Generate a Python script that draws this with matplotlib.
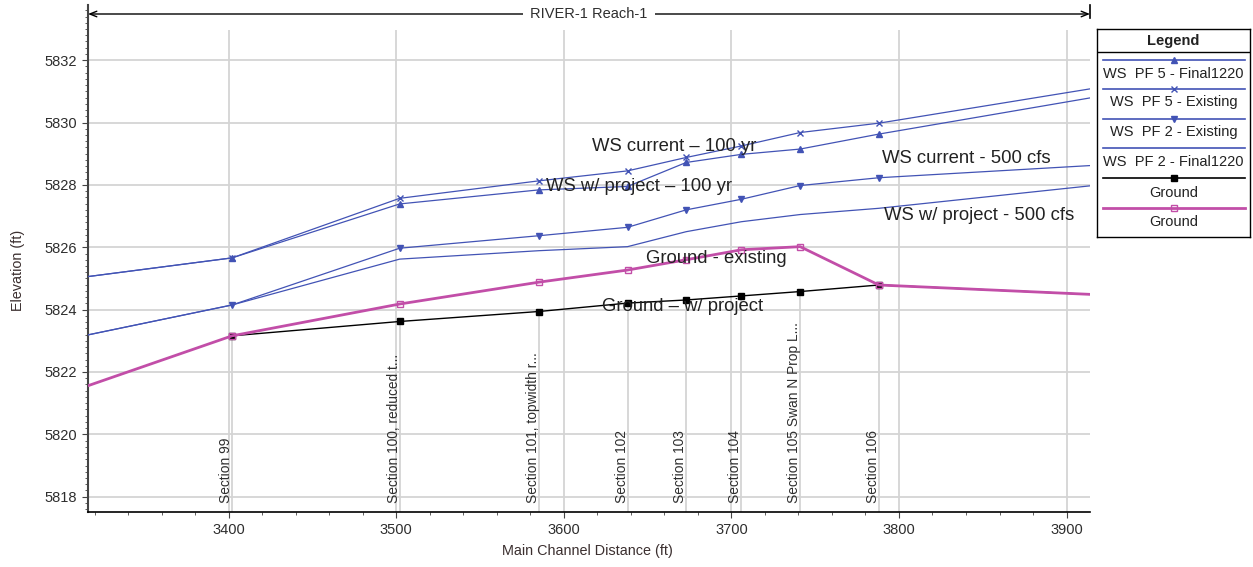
import numpy as np
import matplotlib
matplotlib.use("Agg")
import matplotlib.pyplot as plt
from matplotlib.ticker import MultipleLocator
from matplotlib.transforms import blended_transform_factory

plt.rcParams['font.family'] = ['Liberation Sans', 'DejaVu Sans']

## stations (ft) - first and last are the chart edges
station = [3316, 3402, 3502, 3585, 3638, 3673, 3706, 3741, 3788, 3914]

## water surfaces and ground (ft)
ws_pf5_final = [5825.06, 5825.66, 5827.39, 5827.84, 5827.95, 5828.72, 5828.98, 5829.15, 5829.63, 5830.79]
ws_pf5_exist = [5825.06, 5825.66, 5827.57, 5828.13, 5828.45, 5828.88, 5829.25, 5829.68, 5829.98, 5831.08]
ws_pf2_exist = [5823.19, 5824.15, 5825.97, 5826.37, 5826.64, 5827.20, 5827.54, 5827.98, 5828.23, 5828.62]
ws_pf2_final = [5823.19, 5824.15, 5825.62, 5825.89, 5826.02, 5826.50, 5826.82, 5827.05, 5827.25, 5827.97]
ground_proj = [np.nan, 5823.16, 5823.62, 5823.94, 5824.21, 5824.31, 5824.44, 5824.58, 5824.79, 5824.49]
ground_exist = [5821.56, 5823.16, 5824.18, 5824.88, 5825.27, 5825.60, 5825.92, 5826.02, 5824.79, 5824.49]

## river sections
section_x = station[1:-1]
section_labels = ["Section 99", "Section 100, reduced t...", "Section 101, topwidth r...",
                  "Section 102", "Section 103", "Section 104", "Section 105 Swan N Prop L...",
                  "Section 106"]

xticks = [3400, 3500, 3600, 3700, 3800, 3900]
yticks = [5818, 5820, 5822, 5824, 5826, 5828, 5830, 5832]

## callout texts (x, y, text)
notes = [(3617, 5829.22, "WS current \u2013 100 yr"),
         (3589.5, 5827.95, "WS w/ project \u2013 100 yr"),
         (3649, 5825.65, "Ground - existing"),
         (3623, 5824.10, "Ground \u2013 w/ project"),
         (3790, 5828.86, "WS current - 500 cfs"),
         (3791, 5827.01, "WS w/ project - 500 cfs")]

legend_labels = ["WS  PF 5 - Final1220", "WS  PF 5 - Existing", "WS  PF 2 - Existing",
                 "WS  PF 2 - Final1220", "Ground", "Ground"]

blue = '#4253b5'
mag = '#c24ea8'
grid_c = '#d4d4d4'
txt_c = '#2e2e2e'

W, H = 1253, 567
fig = plt.figure(figsize=(W / 100, H / 100), dpi=100)
ax = fig.add_axes([88 / W, 55 / H, (1090 - 88) / W, (512 - 5) / H])

xmin, xmax = 3316, 3914
ymin, ymax = 5817.51, 5833.77
ax.set_xlim(xmin, xmax)
ax.set_ylim(ymin, ymax)

## grid
ax.vlines(xticks, ymin, 5832.97, color=grid_c, lw=1.3, zorder=0)
ax.hlines(yticks, xmin, xmax, color=grid_c, lw=1.3, zorder=0)

## section lines up to ground
ax.vlines(section_x, ymin, ground_proj[1:-1], color=grid_c, lw=1.3, zorder=1)
tr = blended_transform_factory(ax.transData, ax.transAxes)
for sx, lab in zip(section_x, section_labels):
    ax.text(sx + 0.6, 0.018, lab, transform=tr, rotation=90, ha='right', va='bottom',
            fontsize=9.9, color=txt_c, zorder=2)

mk = list(range(1, len(station) - 1))
ax.plot(station, ws_pf2_final, color=blue, lw=0.9, zorder=3)
ax.plot(station, ws_pf2_exist, color=blue, lw=0.9, marker='v', ms=3.8, markevery=mk, zorder=3)
ax.plot(station, ws_pf5_final, color=blue, lw=0.9, marker='^', ms=3.8, markevery=mk, zorder=3)
ax.plot(station, ws_pf5_exist, color=blue, lw=0.9, marker='x', ms=4.2, mew=1, markevery=mk, zorder=3)
ax.plot(station, ground_proj, color='black', lw=1, marker='s', ms=4, markevery=mk, zorder=3)
ax.plot(station, ground_exist, color=mag, lw=2, marker='s', ms=4.5, mfc='none', mew=1,
        markevery=mk, zorder=4)

for nx, ny, t in notes:
    ax.text(nx, ny, t, fontsize=13.3, color='#222222', ha='left', va='center', zorder=6)

## axes look
for s in ['top', 'right']:
    ax.spines[s].set_visible(False)
ax.spines['left'].set_color('#444444')
ax.spines['left'].set_linewidth(1.5)
ax.spines['bottom'].set_color('black')
ax.spines['bottom'].set_linewidth(1.2)
ax.set_xticks(xticks)
ax.set_yticks(yticks)
ax.xaxis.set_minor_locator(MultipleLocator(20))
ax.yaxis.set_minor_locator(MultipleLocator(0.2))
ax.tick_params(which='major', direction='out', length=4, color='#444444',
               labelsize=10.5, labelcolor=txt_c, pad=4)
ax.tick_params(which='minor', direction='out', length=2, color='#444444')

## reach arrow on top
ya = (512 - 14) / 507
ax.annotate('', xy=(0, ya), xytext=(1, ya), xycoords='axes fraction',
            arrowprops=dict(arrowstyle='<->,head_length=0.5,head_width=0.2', color='black',
                            lw=1, shrinkA=0, shrinkB=0))
ax.plot([1, 1], [(512 - 18) / 507, 1], transform=ax.transAxes, color='black', lw=1.2, clip_on=False)
ax.text(0.5, ya, "RIVER-1 Reach-1", transform=ax.transAxes, ha='center', va='center',
        fontsize=10.5, color=txt_c, bbox=dict(fc='white', ec='none', pad=5), zorder=7)

fig.text(18 / W, 1 - 270 / H, "Elevation (ft)", rotation=90, ha='center', va='center',
         fontsize=10.4, color='#3b2f2f')
fig.text(587 / W, 1 - 551 / H, "Main Channel Distance (ft)", ha='center', va='center',
         fontsize=10.4, color='#3b2f2f')

## legend box
lx0, lx1, ly0, ly1 = 1097, 1250, 29, 237
lg = fig.add_axes([lx0 / W, 1 - ly1 / H, (lx1 - lx0) / W, (ly1 - ly0) / H])
lg.set_xlim(0, lx1 - lx0)
lg.set_ylim(ly1 - ly0, 0)
lg.set_xticks([])
lg.set_yticks([])
for s in lg.spines.values():
    s.set_color('black')
    s.set_linewidth(1)
lg.text(76.5, 11.5, "Legend", ha='center', va='center', fontsize=10.5, fontweight='bold', color='#222222')
lg.axhline(23, color='black', lw=1)
line_y = [31, 60, 90, 119, 149, 179]
text_y = [45, 73, 103, 133, 164, 193]
styles = [dict(color=blue, lw=1.2, marker='^', ms=4),
          dict(color=blue, lw=1.2, marker='x', ms=4, mew=1),
          dict(color=blue, lw=1.2, marker='v', ms=4),
          dict(color=blue, lw=1.2),
          dict(color='black', lw=1.2, marker='s', ms=4.5),
          dict(color=mag, lw=2, marker='s', ms=5, mfc='none', mew=1)]
for ly, ty, lab, st in zip(line_y, text_y, legend_labels, styles):
    lg.plot([6, 76.5, 148], [ly, ly, ly], markevery=[1], **st)
    lg.text(76.5, ty, lab, ha='center', va='center', fontsize=10.5, color='#222222')

fig.savefig("out.png", dpi=100)
